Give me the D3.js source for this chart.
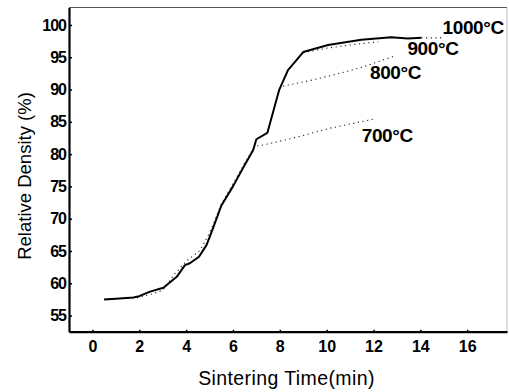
<!DOCTYPE html>
<html>
<head>
<meta charset="utf-8">
<title>Relative density vs sintering time</title>
<style>
  html, body { margin:0; padding:0; background:#fff; }
  svg { display:block; font-family:"Liberation Sans", Arial, sans-serif; }
  .tick text { font-size:16px; font-weight:bold; fill:#000; }
</style>
</head>
<body>
<svg id="chart" width="509" height="392"></svg>
<script src="https://cdn.jsdelivr.net/npm/d3@7/dist/d3.min.js"></script>
<script>
// --- data ---
const xTicks = [0, 2, 4, 6, 8, 10, 12, 14, 16];
const yTicks = [55, 60, 65, 70, 75, 80, 85, 90, 95, 100];

// 1000 C, solid curve
const time1000 = [0.5, 1.0, 1.75, 2.0, 2.46, 3.03, 3.6, 3.95, 4.16, 4.55, 4.87, 5.02, 5.3, 5.5, 6.0, 6.5, 6.86, 7.0, 7.47, 7.97, 8.35, 9.0, 10.06, 11.48, 12.76, 13.47, 14.04];
const dens1000 = [57.5, 57.6, 57.8, 58.0, 58.7, 59.3, 61.0, 62.8, 63.1, 64.1, 65.9, 67.3, 70.0, 72.0, 75.0, 78.3, 80.6, 82.3, 83.3, 89.9, 93.0, 95.8, 96.9, 97.7, 98.1, 97.9, 98.0];
// dotted tail of the 1000 C run
const timeTail = [14.04, 14.9];
const densTail = [98.0, 98.0];

// 900 C hold (dotted)
const time900 = [9.0, 10.0, 11.0, 12.2];
const dens900 = [95.7, 96.4, 96.9, 97.4];

// 800 C hold (dotted)
const time800 = [8.14, 9.42, 10.56, 11.55, 12.83];
const dens800 = [90.5, 91.5, 92.5, 93.5, 95.1];

// 700 C run (dotted): ramp then hold
const time700 = [0.5, 2.0, 2.5, 3.0, 3.5, 4.0, 4.6, 5.0, 5.5, 6.0, 6.5, 6.8, 6.93, 7.29, 8.71, 10.13, 11.98];
const dens700 = [57.5, 57.8, 58.3, 58.9, 61.4, 63.4, 65.1, 67.8, 72.2, 75.4, 78.6, 80.4, 81.2, 81.4, 82.6, 84.0, 85.4];

const labels = [
  { text: "1000\u00B0C", t: 14.95, d: 98.6 },
  { text: "900\u00B0C",  t: 13.45, d: 95.3 },
  { text: "800\u00B0C",  t: 11.85, d: 91.6 },
  { text: "700\u00B0C",  t: 11.5,  d: 81.9 }
];

// --- layout ---
const svg = d3.select("#chart");
const x = d3.scaleLinear().domain([-1, 17.7]).range([69, 507]);
const y = d3.scaleLinear().domain([52.5, 102.7]).range([331.7, 7.5]);

// frame (thin top/right)
svg.append("line").attr("x1", 69).attr("x2", 507).attr("y1", 7.5).attr("y2", 7.5)
  .attr("stroke", "#555").attr("stroke-width", 1);
svg.append("line").attr("x1", 507).attr("x2", 507).attr("y1", 7.5).attr("y2", 331.7)
  .attr("stroke", "#bbb").attr("stroke-width", 1);

// axes
const xAxis = svg.append("g").attr("transform", "translate(0,331.7)")
  .call(d3.axisBottom(x).tickValues(xTicks).tickSize(-2).tickPadding(7).tickSizeOuter(0));
const yAxis = svg.append("g").attr("transform", "translate(69,0)")
  .call(d3.axisLeft(y).tickValues(yTicks).tickSize(-3).tickPadding(3).tickSizeOuter(0));
[xAxis, yAxis].forEach(g => {
  g.select(".domain").attr("stroke", "#000").attr("stroke-width", 2.2);
  g.selectAll(".tick line").attr("stroke", "#000").attr("stroke-width", 1.5);
});
xAxis.selectAll(".tick text").attr("dy", "0.85em");
yAxis.selectAll(".tick text").attr("letter-spacing", "-1px");

// axis titles
svg.append("text")
  .attr("x", 286.5).attr("y", 385)
  .attr("text-anchor", "middle")
  .style("font-size", "19.5px")
  .attr("letter-spacing", "0.4px")
  .text("Sintering Time(min)");
svg.append("text")
  .attr("transform", "translate(31,176) rotate(-90)")
  .attr("text-anchor", "middle")
  .style("font-size", "18.5px")
  .text("Relative Density (%)");

// curves
const line = (ts, ds) => d3.line().x(i => x(ts[i])).y(i => y(ds[i]))(d3.range(ts.length));

const dotted = [[time700, dens700], [time800, dens800], [time900, dens900], [timeTail, densTail]];
svg.selectAll(".dotted").data(dotted).join("path")
  .attr("class", "dotted")
  .attr("d", d => line(d[0], d[1]))
  .attr("fill", "none")
  .attr("stroke", "#222")
  .attr("stroke-width", 1.1)
  .attr("stroke-dasharray", "1.2,3.5");

svg.append("path")
  .attr("d", line(time1000, dens1000))
  .attr("fill", "none")
  .attr("stroke", "#000")
  .attr("stroke-width", 2)
  .attr("stroke-linejoin", "round");

// temperature labels
svg.selectAll(".tlabel").data(labels).join("text")
  .attr("class", "tlabel")
  .attr("x", d => x(d.t)).attr("y", d => y(d.d))
  .style("font-size", "19px").style("font-weight", "bold")
  .attr("letter-spacing", "-0.4px")
  .text(d => d.text);
</script>
</body>
</html>
